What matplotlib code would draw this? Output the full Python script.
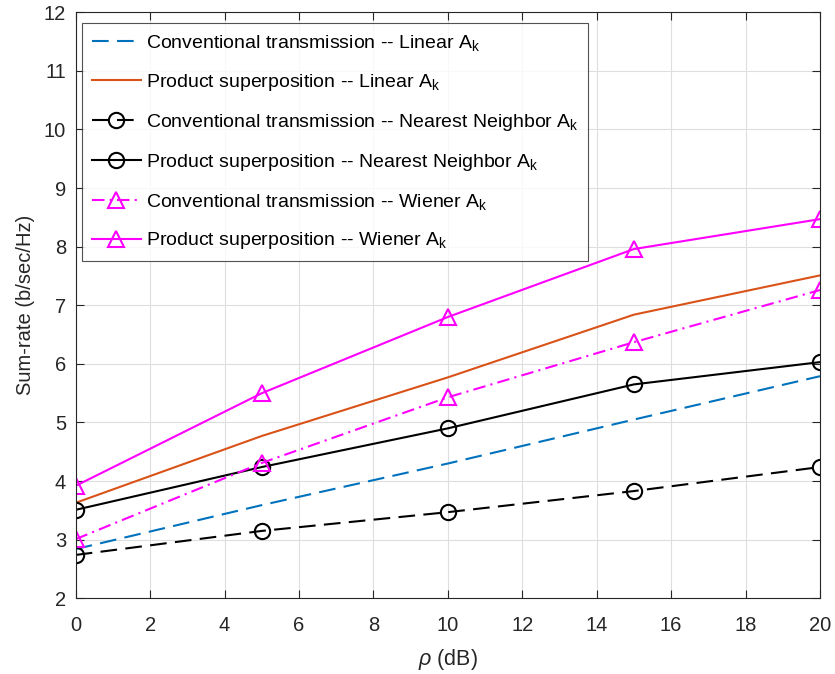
import matplotlib
matplotlib.use("Agg")
import matplotlib.pyplot as plt

plt.rcParams['font.family'] = ['Liberation Sans', 'DejaVu Sans']
plt.rcParams['mathtext.fontset'] = 'custom'
plt.rcParams['mathtext.rm'] = 'Liberation Sans'
plt.rcParams['mathtext.it'] = 'Liberation Sans:italic'

rho_db = [0, 5, 10, 15, 20]
conv_linear = [2.84, 3.59, 4.30, 5.05, 5.79]
prod_linear = [3.63, 4.77, 5.77, 6.84, 7.51]
conv_nn = [2.74, 3.15, 3.47, 3.83, 4.24]
prod_nn = [3.51, 4.24, 4.90, 5.65, 6.03]
conv_wiener = [3.01, 4.31, 5.43, 6.37, 7.26]
prod_wiener = [3.92, 5.50, 6.80, 7.96, 8.47]

labels = [
    r'Conventional transmission -- Linear $\mathregular{A_k}$',
    r'Product superposition -- Linear $\mathregular{A_k}$',
    r'Conventional transmission -- Nearest Neighbor $\mathregular{A_k}$',
    r'Product superposition -- Nearest Neighbor $\mathregular{A_k}$',
    r'Conventional transmission -- Wiener $\mathregular{A_k}$',
    r'Product superposition -- Wiener $\mathregular{A_k}$',
]

blue = '#0072BD'
orange = '#D95319'
magenta = '#FF00FF'
dark = '#262626'

fig = plt.figure(figsize=(8.35, 6.74), dpi=100)
ax = fig.add_axes([0.0907, 0.1123, 0.8913, 0.8695])

lw = 1.5
ms = 11
dashed = (0, (8, 4))
dashdot = (0, (6, 2.5, 1, 2.5))
ax.plot(rho_db, conv_linear, color=blue, lw=lw, ls=dashed, label=labels[0])
ax.plot(rho_db, prod_linear, color=orange, lw=lw, ls='-', label=labels[1])
ax.plot(rho_db, conv_nn, color='k', lw=lw, ls=dashed, marker='o', ms=ms,
        mfc='none', mew=1.5, label=labels[2])
ax.plot(rho_db, prod_nn, color='k', lw=lw, ls='-', marker='o', ms=ms,
        mfc='none', mew=1.5, label=labels[3])
ax.plot(rho_db, conv_wiener, color=magenta, lw=lw, ls=dashdot, marker='^',
        ms=ms, mfc='none', mew=1.5, label=labels[4])
ax.plot(rho_db, prod_wiener, color=magenta, lw=lw, ls='-', marker='^', ms=ms,
        mfc='none', mew=1.5, label=labels[5])

ax.set_xlim(0, 20)
ax.set_ylim(2, 12)
ax.set_xticks(range(0, 21, 2))
ax.set_yticks(range(2, 13))
ax.grid(True, color='#dedede', lw=0.8)
ax.set_axisbelow(True)
ax.tick_params(direction='in', length=6, labelsize=14.5, colors=dark,
               top=True, right=True)
ax.tick_params(axis='x', pad=13)
ax.tick_params(axis='y', pad=7)
for s in ax.spines.values():
    s.set_color(dark)
    s.set_linewidth(0.8)

ax.set_xlabel(r'$\rho$ (dB)', fontsize=15.5, color=dark)
ax.set_ylabel('Sum-rate (b/sec/Hz)', fontsize=14.5, color=dark)
ax.xaxis.set_label_coords(0.5, -0.083)
ax.yaxis.set_label_coords(-0.055, 0.5)

leg = ax.legend(loc='upper left', bbox_to_anchor=(0.009, 0.981), fontsize=14,
                frameon=True, fancybox=False, edgecolor=dark,
                handlelength=2.5, labelspacing=0.97, borderpad=0.5,
                handletextpad=0.25, borderaxespad=0.0)
leg.get_frame().set_linewidth(0.8)

fig.savefig('out.png', dpi=100)
